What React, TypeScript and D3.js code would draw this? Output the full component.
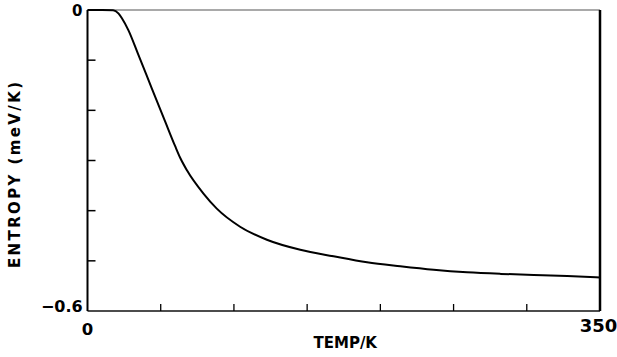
import React from "react";
import * as d3 from "d3";

const temps = [0, 10, 17.5, 21.1, 23.6, 27.9, 34.7, 43.9, 53.0, 59.8, 63.2, 67.8, 79.2, 88.3, 104.2, 122.5, 145.3, 168.0, 190.9, 213.6, 236.4, 259.2, 282.0, 304.7, 327.6, 350];
const entropy = [0, 0, -0.0005, -0.0066, -0.017, -0.040, -0.089, -0.156, -0.222, -0.271, -0.294, -0.319, -0.366, -0.396, -0.432, -0.458, -0.478, -0.491, -0.503, -0.511, -0.518, -0.523, -0.526, -0.528, -0.530, -0.533];
const yTicks = [-0.1, -0.2, -0.3, -0.4, -0.5];
const xTicks = [50, 100, 150, 200, 250, 300];

const W = 617;
const H = 357;
const left = 87.5;
const right = 600;
const top = 10;
const bottom = 311;
const FONT = "'DejaVu Sans', sans-serif";

export default function App() {
  const x = d3.scaleLinear().domain([0, 350]).range([left, right]);
  const y = d3.scaleLinear().domain([-0.6, 0]).range([bottom, top]);
  const pts = temps.map((t, i) => [t, entropy[i]] as [number, number]);
  const line = d3
    .line<[number, number]>()
    .x((d) => x(d[0]))
    .y((d) => y(d[1]))
    .curve(d3.curveMonotoneX);

  return (
    <svg
      width={W}
      height={H}
      style={{ position: "absolute", left: 0, top: 0, background: "#fff" }}
    >
      {/* frame */}
      <line x1={left} x2={right} y1={top} y2={top} stroke="#555" strokeWidth={1.2} />
      <line x1={left} x2={right} y1={bottom} y2={bottom} stroke="#111" strokeWidth={1.5} />
      <line x1={left} x2={left} y1={top} y2={bottom} stroke="#000" strokeWidth={2} />
      <line x1={right} x2={right} y1={top} y2={bottom} stroke="#000" strokeWidth={2.5} />
      {yTicks.map((t) => (
        <line key={"y" + t} x1={left} x2={left + 8} y1={y(t)} y2={y(t)} stroke="#000" strokeWidth={1.5} />
      ))}
      {xTicks.map((t) => (
        <line key={"x" + t} x1={x(t)} x2={x(t)} y1={bottom} y2={bottom - 7} stroke="#000" strokeWidth={1.3} />
      ))}
      <path d={line(pts) || ""} fill="none" stroke="#000" strokeWidth={2} />
      {/* labels */}
      <g fontFamily={FONT} fontWeight="bold" fill="#000">
        <text x={82.5} y={15.5} fontSize={15} textAnchor="end">0</text>
        <text x={82.7} y={312.3} fontSize={16} textAnchor="end">−0.6</text>
        <text x={x(0)} y={335} fontSize={16.5} textAnchor="middle">0</text>
        <text x={x(350) - 1.5} y={331.7} fontSize={18} textAnchor="middle">350</text>
        <text x={(left + right) / 2 + 1.5} y={348} fontSize={15} textAnchor="middle">TEMP/K</text>
        <text
          transform={`translate(20,175) rotate(-90)`}
          fontSize={15}
          textAnchor="middle"
          textLength={186}
          lengthAdjust="spacing"
        >
          ENTROPY (meV/K)
        </text>
      </g>
    </svg>
  );
}
